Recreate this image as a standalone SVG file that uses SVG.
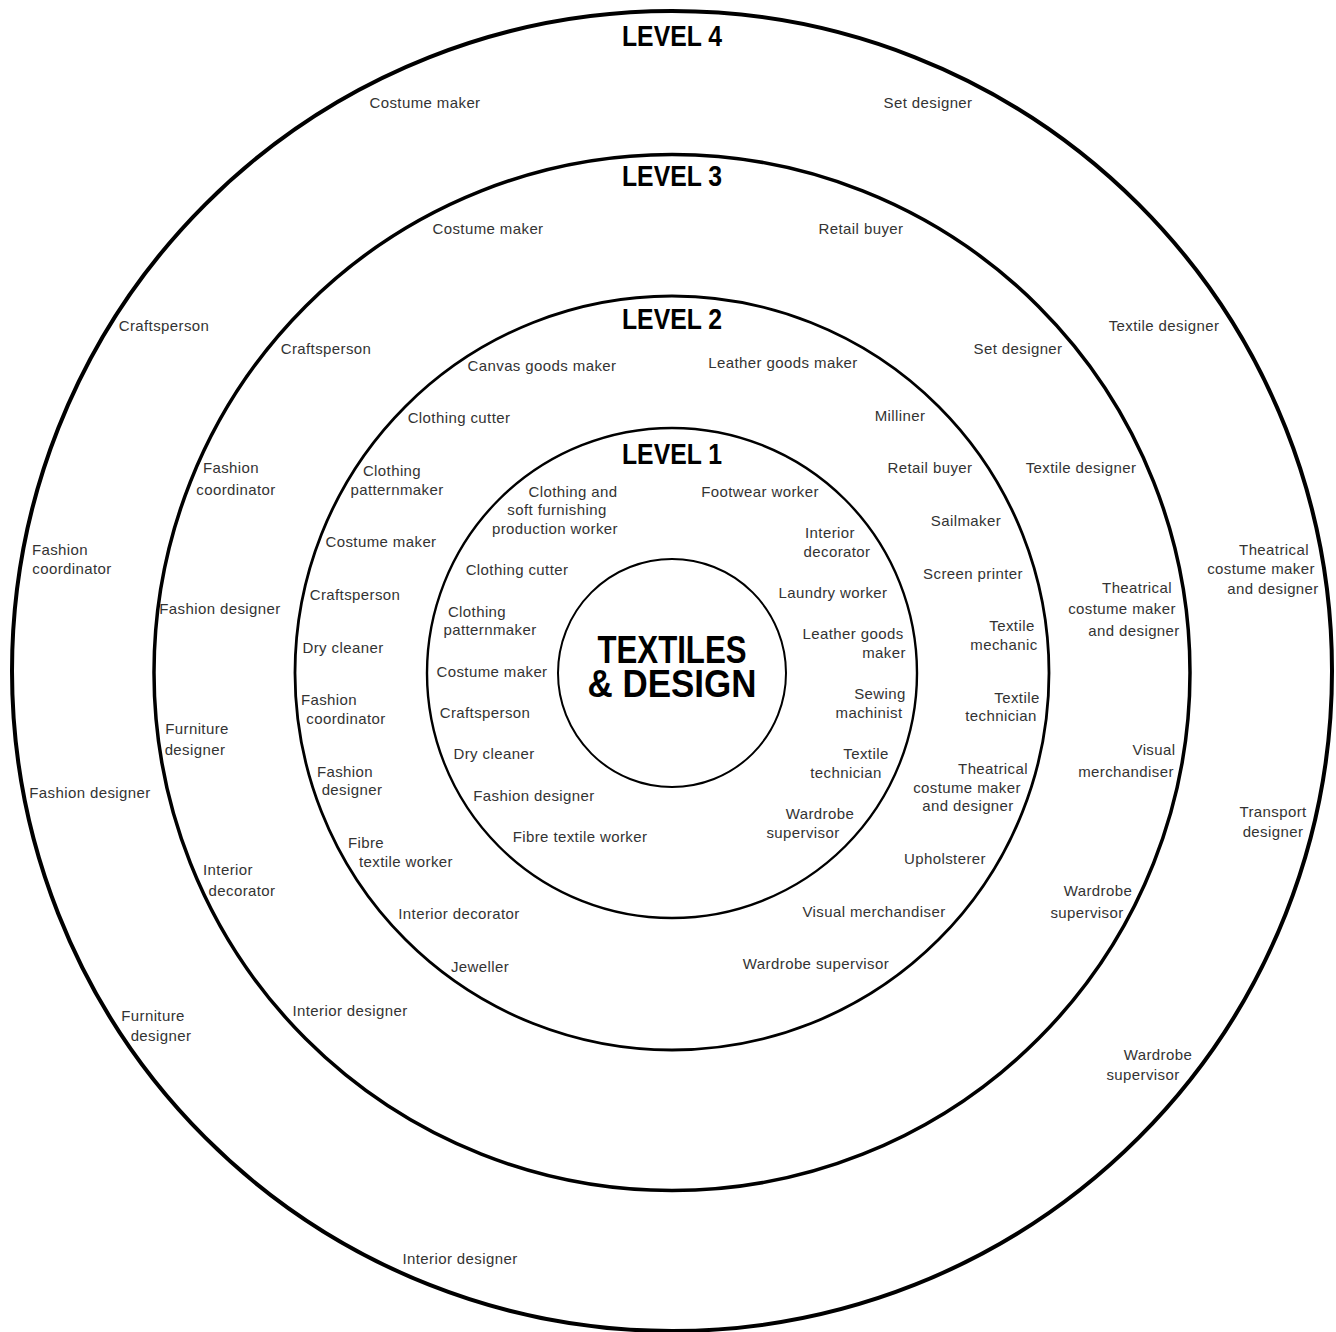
<svg xmlns="http://www.w3.org/2000/svg" width="1336" height="1332" viewBox="0 0 1336 1332">
<style>
.ring{fill:none;stroke:#000}
.t{font-family:"Liberation Sans",Arial,sans-serif;font-size:15px;fill:#333;letter-spacing:0.4px;text-anchor:middle}
.h{font-family:"Liberation Sans Narrow","Liberation Sans",Arial,sans-serif;font-weight:bold;font-size:29px;fill:#000;text-anchor:middle}
.c{font-family:"Liberation Sans Narrow","Liberation Sans",Arial,sans-serif;font-weight:bold;font-size:38px;fill:#000;text-anchor:middle}
</style>
<rect width="1336" height="1332" fill="#fff"/>
<g id="rings">
<circle class="ring" cx="672" cy="671" r="660" stroke-width="4"/>
<circle class="ring" cx="672" cy="672.5" r="518" stroke-width="3.5"/>
<circle class="ring" cx="672" cy="673" r="377" stroke-width="2.8"/>
<circle class="ring" cx="672" cy="673" r="245" stroke-width="2.4"/>
<circle class="ring" cx="672" cy="673" r="114" stroke-width="2"/>
</g>
<g id="centre">
<text class="c" x="672" y="663" textLength="149" lengthAdjust="spacingAndGlyphs">TEXTILES</text>
<text class="c" x="672" y="697" textLength="169" lengthAdjust="spacingAndGlyphs">&amp; DESIGN</text>
</g>
<g id="level4">
<text class="h" x="672" y="46" textLength="100" lengthAdjust="spacingAndGlyphs">LEVEL 4</text>
<text class="t" x="425" y="108">Costume maker</text>
<text class="t" x="928" y="108">Set designer</text>
<text class="t" x="164" y="331">Craftsperson</text>
<text class="t" x="1164" y="331">Textile designer</text>
<text class="t" x="60" y="555">Fashion</text>
<text class="t" x="72" y="574">coordinator</text>
<text class="t" x="1274" y="555">Theatrical</text>
<text class="t" x="1261" y="574">costume maker</text>
<text class="t" x="1273" y="594">and designer</text>
<text class="t" x="90" y="798">Fashion designer</text>
<text class="t" x="1273" y="817">Transport</text>
<text class="t" x="1273" y="837">designer</text>
<text class="t" x="153" y="1021">Furniture</text>
<text class="t" x="161" y="1041">designer</text>
<text class="t" x="1158" y="1060">Wardrobe</text>
<text class="t" x="1143" y="1080">supervisor</text>
<text class="t" x="460" y="1264">Interior designer</text>
</g>
<g id="level3">
<text class="h" x="672" y="186" textLength="100" lengthAdjust="spacingAndGlyphs">LEVEL 3</text>
<text class="t" x="488" y="234">Costume maker</text>
<text class="t" x="861" y="234">Retail buyer</text>
<text class="t" x="326" y="354">Craftsperson</text>
<text class="t" x="1018" y="354">Set designer</text>
<text class="t" x="231" y="473">Fashion</text>
<text class="t" x="236" y="495">coordinator</text>
<text class="t" x="1081" y="473">Textile designer</text>
<text class="t" x="220" y="614">Fashion designer</text>
<text class="t" x="1137" y="593">Theatrical</text>
<text class="t" x="1122" y="614">costume maker</text>
<text class="t" x="1134" y="636">and designer</text>
<text class="t" x="197" y="734">Furniture</text>
<text class="t" x="195" y="755">designer</text>
<text class="t" x="1154" y="755">Visual</text>
<text class="t" x="1126" y="777">merchandiser</text>
<text class="t" x="228" y="875">Interior</text>
<text class="t" x="242" y="896">decorator</text>
<text class="t" x="1098" y="896">Wardrobe</text>
<text class="t" x="1087" y="918">supervisor</text>
<text class="t" x="350" y="1016">Interior designer</text>
</g>
<g id="level2">
<text class="h" x="672" y="329" textLength="100" lengthAdjust="spacingAndGlyphs">LEVEL 2</text>
<text class="t" x="542" y="371">Canvas goods maker</text>
<text class="t" x="783" y="368">Leather goods maker</text>
<text class="t" x="459" y="423">Clothing cutter</text>
<text class="t" x="900" y="421">Milliner</text>
<text class="t" x="392" y="476">Clothing</text>
<text class="t" x="397" y="495">patternmaker</text>
<text class="t" x="930" y="473">Retail buyer</text>
<text class="t" x="381" y="547">Costume maker</text>
<text class="t" x="966" y="526">Sailmaker</text>
<text class="t" x="355" y="600">Craftsperson</text>
<text class="t" x="973" y="579">Screen printer</text>
<text class="t" x="343" y="653">Dry cleaner</text>
<text class="t" x="1012" y="631">Textile</text>
<text class="t" x="1004" y="650">mechanic</text>
<text class="t" x="329" y="705">Fashion</text>
<text class="t" x="346" y="724">coordinator</text>
<text class="t" x="1017" y="703">Textile</text>
<text class="t" x="1001" y="721">technician</text>
<text class="t" x="345" y="777">Fashion</text>
<text class="t" x="352" y="795">designer</text>
<text class="t" x="993" y="774">Theatrical</text>
<text class="t" x="967" y="793">costume maker</text>
<text class="t" x="968" y="811">and designer</text>
<text class="t" x="366" y="848">Fibre</text>
<text class="t" x="406" y="867">textile worker</text>
<text class="t" x="945" y="864">Upholsterer</text>
<text class="t" x="459" y="919">Interior decorator</text>
<text class="t" x="874" y="917">Visual merchandiser</text>
<text class="t" x="480" y="972">Jeweller</text>
<text class="t" x="816" y="969">Wardrobe supervisor</text>
</g>
<g id="level1">
<text class="h" x="672" y="464" textLength="100" lengthAdjust="spacingAndGlyphs">LEVEL 1</text>
<text class="t" x="573" y="497">Clothing and</text>
<text class="t" x="557" y="515">soft furnishing</text>
<text class="t" x="555" y="534">production worker</text>
<text class="t" x="760" y="497">Footwear worker</text>
<text class="t" x="830" y="538">Interior</text>
<text class="t" x="837" y="557">decorator</text>
<text class="t" x="517" y="575">Clothing cutter</text>
<text class="t" x="833" y="598">Laundry worker</text>
<text class="t" x="477" y="617">Clothing</text>
<text class="t" x="490" y="635">patternmaker</text>
<text class="t" x="853" y="639">Leather goods</text>
<text class="t" x="884" y="658">maker</text>
<text class="t" x="492" y="677">Costume maker</text>
<text class="t" x="880" y="699">Sewing</text>
<text class="t" x="869" y="718">machinist</text>
<text class="t" x="485" y="718">Craftsperson</text>
<text class="t" x="866" y="759">Textile</text>
<text class="t" x="846" y="778">technician</text>
<text class="t" x="494" y="759">Dry cleaner</text>
<text class="t" x="534" y="801">Fashion designer</text>
<text class="t" x="820" y="819">Wardrobe</text>
<text class="t" x="803" y="838">supervisor</text>
<text class="t" x="580" y="842">Fibre textile worker</text>
</g>
</svg>
